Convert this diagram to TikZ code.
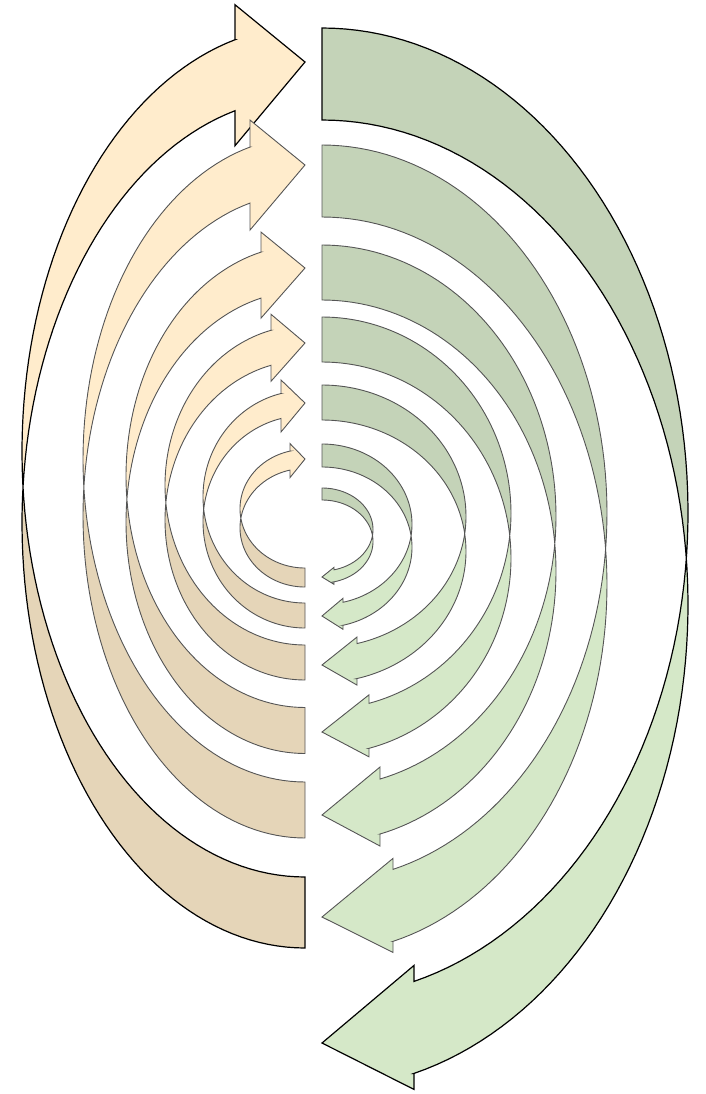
\documentclass[tikz,border=0pt]{standalone}
\usepackage{tikz}
\definecolor{LeftLight}{HTML}{FFECCC}
\definecolor{LeftDark}{HTML}{E5D5B8}
\definecolor{RightDark}{HTML}{C4D3B8}
\definecolor{RightLight}{HTML}{D5E8C8}
\definecolor{EdgeGray}{HTML}{555555}

\begin{document}
\begin{tikzpicture}[
  x=1pt,y=-1pt,
  rimblack/.style={draw=black,line width=1.2pt,line join=miter},
  rimgray/.style={draw=EdgeGray,line width=0.9pt,line join=miter},
  arc/.style={samples=90,variable=\ang}
]
\useasboundingbox (0,0) rectangle (706,1094);

% left arrows: flat end at the bottom, head at the top pointing right
\foreach \rx/\cy/\ry/\thk/\hl/\bx/\rim in {
  283/522.75/425.25/71/70/35/rimblack,
  222/515.5/322.5/56/55/27/rimgray,
  179/522.25/231.25/46/44/20/rimgray,
  140/520.25/159.75/35/34/16/rimgray,
  102/521.75/106.25/25/24/13.5/rimgray,
  65/527.75/59.25/19/15/7.5/rimgray}{
  \pgfmathsetmacro{\dl}{asin(\thk/(2*\ry))}
  \pgfmathsetmacro{\tm}{180+\dl}
  \pgfmathsetmacro{\tn}{180-\dl}
  \pgfmathsetmacro{\tH}{180+acos(\hl/\rx)}
  \pgfmathsetmacro{\yA}{\cy+\ry*sin(\tH)}
  \pgfmathsetmacro{\yB}{\yA-\thk}
  \pgfmathsetmacro{\xh}{305-\hl}
  \pgfmathsetmacro{\tip}{\cy-\ry-\thk/2}
  \fill[LeftDark] plot[arc,domain=90:\tm] ({305+\rx*cos(\ang)},{\cy+\ry*sin(\ang)})
    -- plot[arc,domain=\tn:90] ({305+\rx*cos(\ang)},{\cy-\thk+\ry*sin(\ang)}) -- cycle;
  \fill[LeftLight] plot[arc,domain=\tm:\tH] ({305+\rx*cos(\ang)},{\cy+\ry*sin(\ang)})
    -- (\xh,\yA+\bx) -- (305,\tip) -- (\xh,\yB-\bx) -- (\xh,\yB)
    -- plot[arc,domain=\tH:\tn] ({305+\rx*cos(\ang)},{\cy-\thk+\ry*sin(\ang)}) -- cycle;
  \draw[\rim] plot[arc,domain=90:\tH] ({305+\rx*cos(\ang)},{\cy+\ry*sin(\ang)})
    -- (\xh,\yA+\bx) -- (305,\tip) -- (\xh,\yB-\bx) -- (\xh,\yB)
    -- plot[arc,domain=\tH:90] ({305+\rx*cos(\ang)},{\cy-\thk+\ry*sin(\ang)}) -- cycle;
}

% right arrows: flat end at the top, head at the bottom pointing left
\foreach \rx/\cy/\ry/\thk/\hl/\bx/\rim in {
  366/512.5/484.5/92/92/16/rimblack,
  285/513/368/72/71/11/rimgray,
  234/516.25/271.25/55/58/12/rimgray,
  189/513.25/196.25/45/47/8.5/rimgray,
  144/516.25/131.25/35/35/6.5/rimgray,
  90/524.25/80.25/23/21/4/rimgray,
  51/529.5/41.5/12/12/2.5/rimgray}{
  \pgfmathsetmacro{\dl}{asin(\thk/(2*\ry))}
  \pgfmathsetmacro{\tn}{-\dl}
  \pgfmathsetmacro{\tH}{acos(\hl/\rx)}
  \pgfmathsetmacro{\yA}{\cy+\ry*sin(\tH)}
  \pgfmathsetmacro{\yB}{\yA+\thk}
  \pgfmathsetmacro{\xh}{322+\hl}
  \pgfmathsetmacro{\tip}{\cy+\ry+\thk/2}
  \fill[RightDark] plot[arc,domain=-90:\dl] ({322+\rx*cos(\ang)},{\cy+\ry*sin(\ang)})
    -- plot[arc,domain=\tn:-90] ({322+\rx*cos(\ang)},{\cy+\thk+\ry*sin(\ang)}) -- cycle;
  \fill[RightLight] plot[arc,domain=\dl:\tH] ({322+\rx*cos(\ang)},{\cy+\ry*sin(\ang)})
    -- (\xh,\yA-\bx) -- (322,\tip) -- (\xh,\yB+\bx) -- (\xh,\yB)
    -- plot[arc,domain=\tH:\tn] ({322+\rx*cos(\ang)},{\cy+\thk+\ry*sin(\ang)}) -- cycle;
  \draw[\rim] plot[arc,domain=-90:\tH] ({322+\rx*cos(\ang)},{\cy+\ry*sin(\ang)})
    -- (\xh,\yA-\bx) -- (322,\tip) -- (\xh,\yB+\bx) -- (\xh,\yB)
    -- plot[arc,domain=\tH:-90] ({322+\rx*cos(\ang)},{\cy+\thk+\ry*sin(\ang)}) -- cycle;
}
\end{tikzpicture}
\end{document}
